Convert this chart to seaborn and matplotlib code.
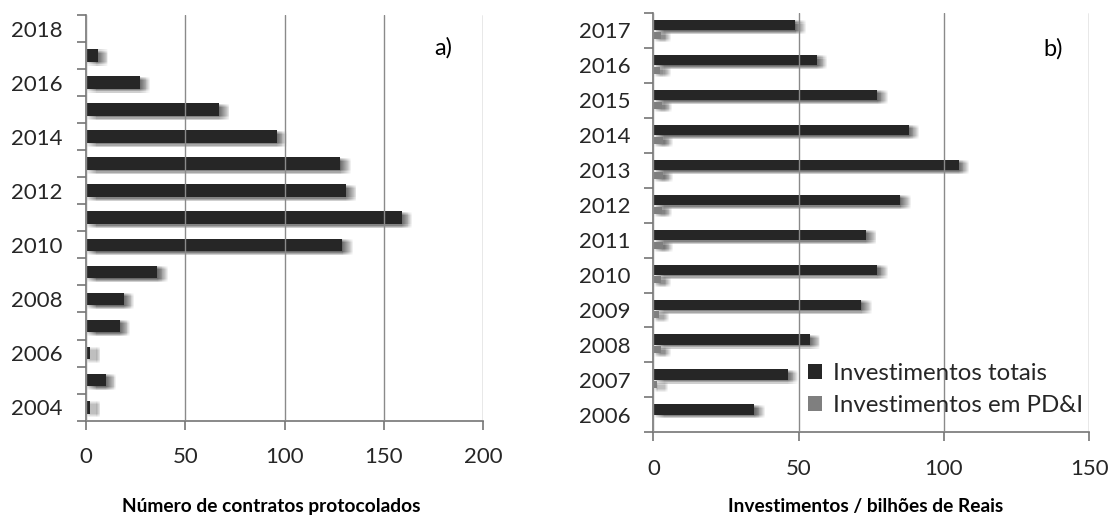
import numpy as np
import pandas as pd
import seaborn as sns
import matplotlib.pyplot as plt
from matplotlib import patheffects as pe
from matplotlib.patches import Patch
from matplotlib.ticker import FixedLocator

sns.set_theme(style="white")
plt.rcParams["font.family"] = ["Lato", "DejaVu Sans"]

# a) protocol contracts per year
contract_years = [2004, 2005, 2006, 2007, 2008, 2009, 2010, 2011,
                  2012, 2013, 2014, 2015, 2016, 2017]
contracts = [2, 10, 2, 17, 19, 36, 129, 159, 131, 128, 96, 67, 27, 6]
axis_years_a = [str(y) for y in range(2018, 2003, -1)]

# b) investments (billions of reais)
invest_years = [2006, 2007, 2008, 2009, 2010, 2011, 2012, 2013,
                2014, 2015, 2016, 2017]
invest_total = [34.8, 46.2, 53.9, 71.5, 77.1, 73.2, 84.9, 105.0,
                87.8, 77.1, 56.2, 48.8]
invest_pdi = [0.0, 1.3, 2.5, 1.8, 2.5, 3.2, 2.9, 3.2, 3.2, 2.9, 2.4, 2.5]
series_names = ["Investimentos totais", "Investimentos em PD&I"]

DARK = "#262626"
GREY = "#7f7f7f"
AXIS = "#767676"
TEXT = "#262626"
TICK_FS = 16
LEGEND_FS = 17.3
LABEL_FS = 13.8
PANEL_FS = 17


def soft_shadow():
    # blurred drop shadow: a dense grid of faint offset copies of the bar
    layers = []
    for dx in np.linspace(0.3, 7.5, 12):
        for dy in np.linspace(-0.2, -2.6, 4):
            layers.append(pe.SimplePatchShadow(offset=(dx, dy), shadow_rgbFace="black",
                                               alpha=0.016))
    layers.append(pe.Normal())
    return layers


def style_axis(ax, n_slots, xticks, ypad):
    ax.set_xlim(xticks[0], xticks[-1])
    ax.set_ylim(n_slots - 0.5, -0.5)
    ax.set_xticks(xticks)
    ax.xaxis.grid(True, color="#8a8a8a", linewidth=1.0)
    ax.yaxis.grid(False)
    ax.set_axisbelow(False)
    for side in ["top", "right"]:
        ax.spines[side].set_visible(False)
    for side in ["left", "bottom"]:
        ax.spines[side].set_color(AXIS)
        ax.spines[side].set_linewidth(1.2)
    ax.yaxis.set_minor_locator(FixedLocator(np.arange(n_slots + 1) - 0.5))
    ax.tick_params(axis="y", which="major", length=0, pad=ypad, labelsize=TICK_FS,
                   labelcolor=TEXT)
    ax.tick_params(axis="y", which="minor", left=True, length=6.5, width=1.2, color=AXIS,
                   direction="out")
    ax.tick_params(axis="x", which="major", bottom=True, length=6.5, width=1.2, color=AXIS,
                   direction="out", pad=12.5, labelsize=TICK_FS, labelcolor=TEXT)


fig = plt.figure(figsize=(11.13, 5.17), dpi=100)
ax1 = fig.add_axes([0.0773, 0.1863, 0.3567, 0.7847])
ax2 = fig.add_axes([0.587, 0.1638, 0.3917, 0.8111])

# ---- panel a
sns.barplot(x=contracts, y=[str(y) for y in contract_years], order=axis_years_a,
            orient="h", color=DARK, saturation=1, width=0.47, linewidth=0,
            edgecolor="none", ax=ax1)
for bar in ax1.patches:
    bar.set_path_effects(soft_shadow())
style_axis(ax1, len(axis_years_a), [0, 50, 100, 150, 200], ypad=17)
ax1.set_yticks(range(len(axis_years_a)))
ax1.set_yticklabels([y if int(y) % 2 == 0 else "" for y in axis_years_a])
ax1.set_xlabel("Número de contratos protocolados", fontsize=LABEL_FS, fontweight="bold",
               color="black")
ax1.xaxis.set_label_coords(0.466, -0.212)
ax1.xaxis.label.set_va("center")
ax1.set_ylabel("")
ax1.text(0.899, 0.92, "a)", transform=ax1.transAxes, fontsize=PANEL_FS, color="black",
         ha="center", va="center")

# ---- panel b
invest_df = pd.DataFrame({
    "ano": [str(y) for y in invest_years] * 2,
    "valor": invest_total + invest_pdi,
    "serie": [series_names[0]] * len(invest_years) + [series_names[1]] * len(invest_years),
})
order_b = [str(y) for y in reversed(invest_years)]
sns.barplot(data=invest_df, x="valor", y="ano", hue="serie", order=order_b,
            hue_order=series_names, palette=[DARK, GREY], saturation=1,
            orient="h", width=0.6, dodge=True, legend=False, linewidth=0,
            edgecolor="none", ax=ax2)
for bar in ax2.containers[1]:
    bar.set_y(bar.get_y() + 0.04)
    bar.set_height(0.2)
for bar in ax2.patches:
    bar.set_path_effects(soft_shadow())
style_axis(ax2, len(order_b), [0, 50, 100, 150], ypad=16.5)
ax2.set_xlabel("Investimentos / bilhões de Reais", fontsize=LABEL_FS, fontweight="bold",
               color="black")
ax2.xaxis.set_label_coords(0.488, -0.176)
ax2.xaxis.label.set_va("center")
ax2.set_ylabel("")
ax2.text(0.917, 0.915, "b)", transform=ax2.transAxes, fontsize=PANEL_FS, color="black",
         ha="center", va="center")

handles = [Patch(facecolor=DARK, edgecolor="none"), Patch(facecolor=GREY, edgecolor="none")]
fig.legend(handles, series_names, loc="center left",
           bbox_to_anchor=(808 / 1113, 1 - 389.5 / 517), bbox_transform=fig.transFigure,
           frameon=False, fontsize=LEGEND_FS, handlelength=0.57, handleheight=0.57,
           handletextpad=0.45, labelspacing=0.45, borderaxespad=0, borderpad=0,
           labelcolor=TEXT)

fig.savefig("out.png", dpi=100)
